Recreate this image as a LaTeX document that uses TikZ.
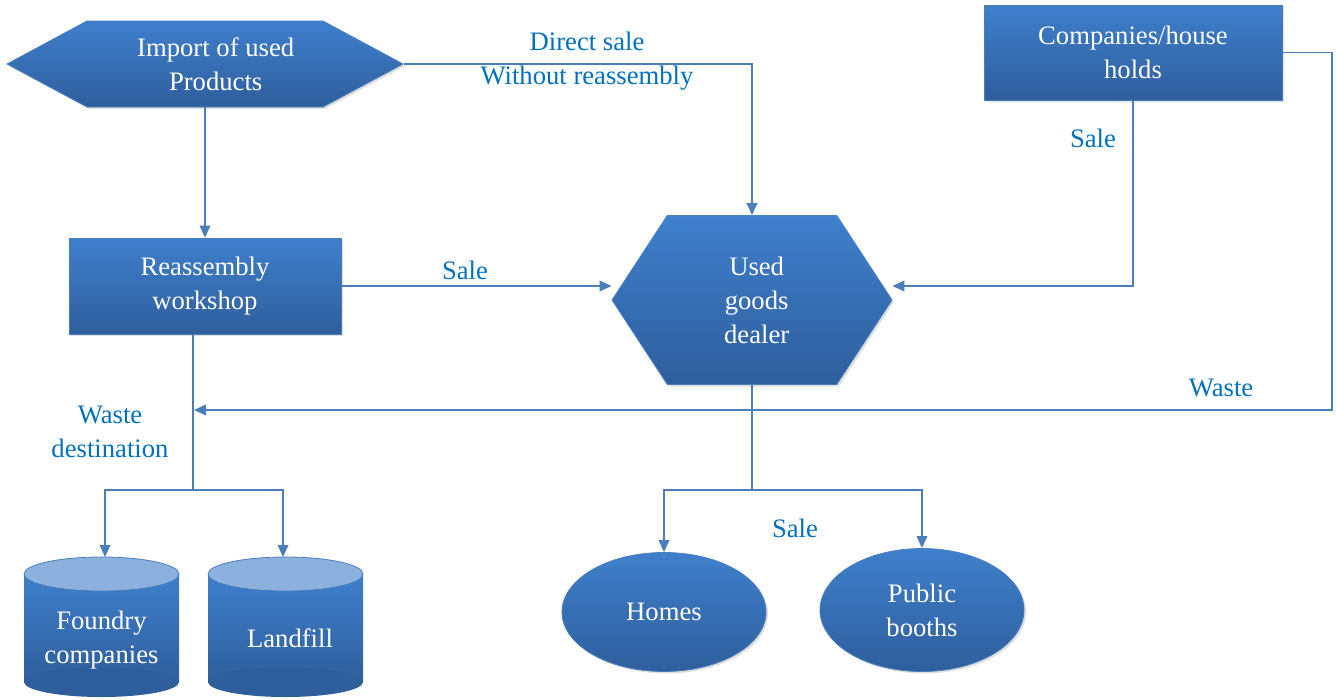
\documentclass[tikz,border=0pt]{standalone}
\usepackage{fontspec}
\setmainfont{Liberation Serif}
\newfontfamily\diagfont{Liberation Serif}
\usetikzlibrary{shapes.symbols,shapes.geometric,arrows.meta,shadows,calc}

\definecolor{boxtop}{HTML}{3F7FCC}
\definecolor{boxbot}{HTML}{2F5E9C}
\definecolor{cyltop}{HTML}{8CB1DE}
\definecolor{linkblue}{HTML}{4A7EBB}
\definecolor{labelblue}{HTML}{0070C0}

\tikzset{
  box/.style={top color=boxtop, bottom color=boxbot, draw=linkblue, line width=0.6pt,
    text=white, align=center, inner sep=0pt, font=\diagfont\fontsize{20}{25.5}\selectfont,
    drop shadow={opacity=0.25,shadow xshift=1.5pt,shadow yshift=-1.5pt}},
  cyltext/.style={text=white, align=center, font=\diagfont\fontsize{20}{25.5}\selectfont},
  link/.style={draw=linkblue, line width=1.1pt, -{Triangle[length=9pt,width=8pt]}},
  plain/.style={draw=linkblue, line width=1.1pt},
  lbl/.style={text=labelblue, align=center, font=\diagfont\fontsize{20}{25.5}\selectfont}
}

\begin{document}
\begin{tikzpicture}[x=0.75pt,y=-0.75pt]
\useasboundingbox (0,0) rectangle (1336,700);

% boxes
\node [box,signal,signal to=west and east,signal pointer angle=56.5,
  minimum width=297pt,minimum height=64.5pt] (imp) at (205,64) {\hspace*{16pt}Import of used\\\hspace*{16pt}Products};
\node [box,rectangle,minimum width=204pt,minimum height=72pt] (re) at (205,286) {Reassembly\\workshop};
\node [box,signal,signal to=west and east,signal pointer angle=113.6,
  minimum width=210pt,minimum height=126.75pt] (dealer) at (752,300) {\hspace*{7pt}Used\\\hspace*{7pt}goods\\\hspace*{7pt}dealer};
\node [box,rectangle,minimum width=223.5pt,minimum height=71.25pt] (comp) at (1133,52.5) {Companies/house\\holds};
\node [box,ellipse,minimum width=153pt,minimum height=89.25pt] (homes) at (664,612) {Homes};
\node [box,ellipse,minimum width=153pt,minimum height=92.25pt] (pub) at (922,610) {Public\\booths};

% cylinders
\shade [top color=boxtop,bottom color=boxbot] (24,574) rectangle (179,682);
\fill [boxbot] (101.5,682) ellipse (58.1pt and 11.25pt);
\fill [cyltop,draw=linkblue,line width=0.6pt] (101.5,574) ellipse (58.1pt and 12.75pt);
\shade [top color=boxtop,bottom color=boxbot] (208,574) rectangle (363,682);
\fill [boxbot] (285.5,682) ellipse (58.1pt and 11.25pt);
\fill [cyltop,draw=linkblue,line width=0.6pt] (285.5,574) ellipse (58.1pt and 12.75pt);
\node [cyltext] (foundry) at (101.5,640) {Foundry\\companies};
\node [cyltext] (landfill) at (290,638) {Landfill};
\coordinate (foundrytop) at (105,557);
\coordinate (landfilltop) at (283,557);

% connectors
\coordinate (rb) at (193,490);
\coordinate (db) at (752,490);
\coordinate (wastecorner) at (1332,410);
\coordinate (wasteend) at (194,410);
\draw [link] (imp.east) -| (dealer.north);
\draw [link] (imp.south) -- (re.north);
\draw [link] (re.east) -- (re.east -| dealer.west);
\draw [link] (comp.south) |- ([yshift=10.5pt]dealer.east);
\draw [link] (comp.east) -| (wastecorner) -- (wasteend);
\draw [plain] ([xshift=-9pt]re.south) -- (rb);
\draw [link] (rb) -| (foundrytop);
\draw [link] (rb) -| (landfilltop);
\draw [plain] (dealer.south) -- (db);
\draw [link] (db) -| (homes.north);
\draw [link] (db) -| (pub.north);

% labels
\node [lbl] (direct) at (587,61) {Direct sale\\Without reassembly};
\node [lbl] (sale1) at (465,270) {Sale};
\node [lbl] (sale2) at (1093,138) {Sale};
\node [lbl] (waste) at (1221,388) {Waste};
\node [lbl] (dest) at (110,432) {Waste\\destination};
\node [lbl] (sale3) at (795,528) {Sale};
\end{tikzpicture}
\end{document}
